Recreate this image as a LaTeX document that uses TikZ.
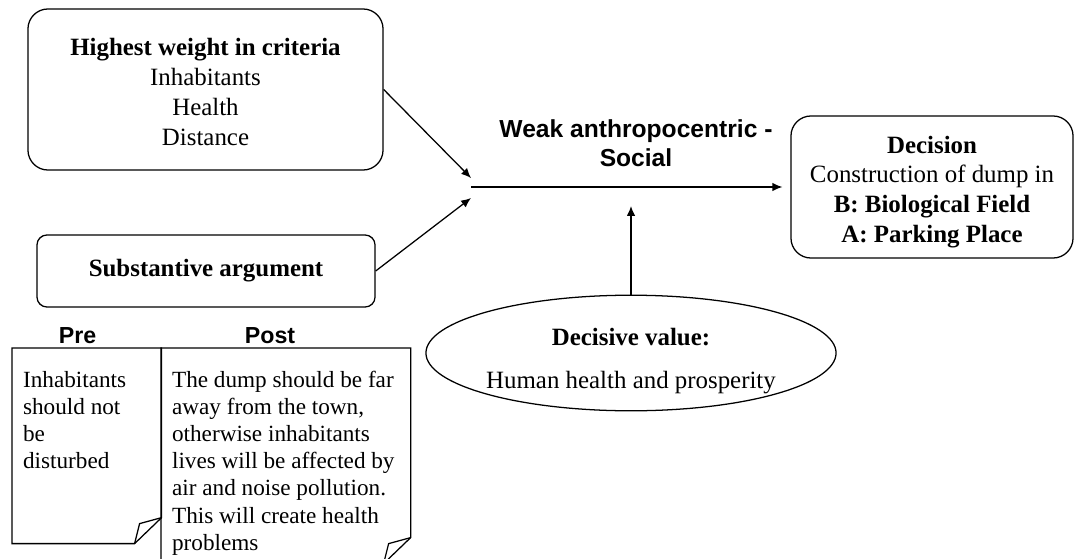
\documentclass[tikz,border=0pt]{standalone}
\usepackage{fontspec}
\setmainfont{Liberation Serif}
\setsansfont{Liberation Sans}
\usepackage{tikz}
\usetikzlibrary{arrows,arrows.meta,shapes.geometric}
\newcommand{\boxfont}{\fontsize{17.7}{21.3}\selectfont}
\newcommand{\notefont}{\fontsize{16.5}{19.3}\selectfont}
\newcommand{\headfont}{\fontsize{17.5}{21}\selectfont\sffamily\bfseries}
\tikzset{roundbox/.style={draw=black,line width=0.9pt,align=center,font=\boxfont}}
\tikzset{notebox/.style={anchor=north west,inner xsep=0.27cm,inner ysep=0.57cm,font=\notefont}}
\tikzset{headlabel/.style={align=center,font=\headfont}}
% outline of a note with a turned-down corner
\newcommand{\foldnote}[1]{%
  \draw[line width=0.9pt] (#1.north west) -- (#1.north east) -- ([yshift=0.65cm]#1.south east)
    -- ([xshift=-0.675cm]#1.south east) -- (#1.south west) -- cycle;
  \draw[line width=0.9pt] ([yshift=0.65cm]#1.south east) -- ([xshift=-0.55cm,yshift=0.5cm]#1.south east)
    -- ([xshift=-0.675cm]#1.south east);}

\begin{document}
\begin{tikzpicture}[x=0.025cm,y=-0.025cm,>={Latex[length=7pt,width=6pt]}]
\useasboundingbox (0,0) rectangle (1076,558);
\clip (0,0) rectangle (1076,558);
% \draw[help lines,step=50] (0,0) grid (1076,558);
\node (crit) [roundbox,rounded corners=0.5cm,minimum width=8.875cm,minimum height=4.025cm] at (205.5,89.5)
  {\rule{0pt}{16pt}\textbf{Highest weight in criteria}\\ Inhabitants\\ Health\\ Distance};
\node (subst) [roundbox,rounded corners=0.25cm,minimum width=8.45cm,minimum height=1.8cm] at (206,271)
  {\textbf{Substantive argument}};
\node (dec) [roundbox,rounded corners=0.5cm,minimum width=7.05cm,minimum height=3.55cm] at (932,187)
  {\rule{0pt}{19.5pt}\textbf{Decision}\\ Construction of dump in\\ \textbf{B: Biological Field}\\ \textbf{A: Parking Place}};
\node (val) [roundbox,ellipse,inner sep=0pt,minimum width=10.25cm,minimum height=2.55cm] at (631,353)
  {\rule{0pt}{24pt}\textbf{Decisive value:}\\[9pt] Human health and prosperity};
\node (weak) [headlabel] at (636,143) {Weak anthropocentric -\\ Social};
%
\node (preLbl) [headlabel,font=\fontsize{16.5}{20}\selectfont\sffamily\bfseries] at (77.5,336) {Pre};
\node (postLbl) [headlabel,font=\fontsize{16.5}{20}\selectfont\sffamily\bfseries] at (270,336) {Post};
\node (pre) [notebox] at (12,348)
  {\parbox[t][3.735cm][t]{3.185cm}{Inhabitants\\ should not\\ be\\ disturbed}};
\node (post) [notebox] at (161,348)
  {\parbox[t][4.235cm][t]{5.685cm}{The dump should be far\\ away from the town,\\ otherwise inhabitants\\
   lives will be affected by\\ air and noise pollution.\\ This will create health\\ problems}};
\foldnote{pre}
\foldnote{post}
%
\coordinate (hub) at (471,187);
\coordinate (hubUp) at (471,178);
\coordinate (hubDown) at (471,198);
\coordinate (valTip) at (631,206);
\path[->,line width=0.9pt] (crit.east) edge (hubUp);
\path[->,line width=0.9pt] (subst.east) edge (hubDown);
\path[->,line width=0.9pt,shorten >=0.2cm] (hub) edge (dec.west);
\path[->,line width=0.9pt] (val.north) edge (valTip);
\end{tikzpicture}
\end{document}
